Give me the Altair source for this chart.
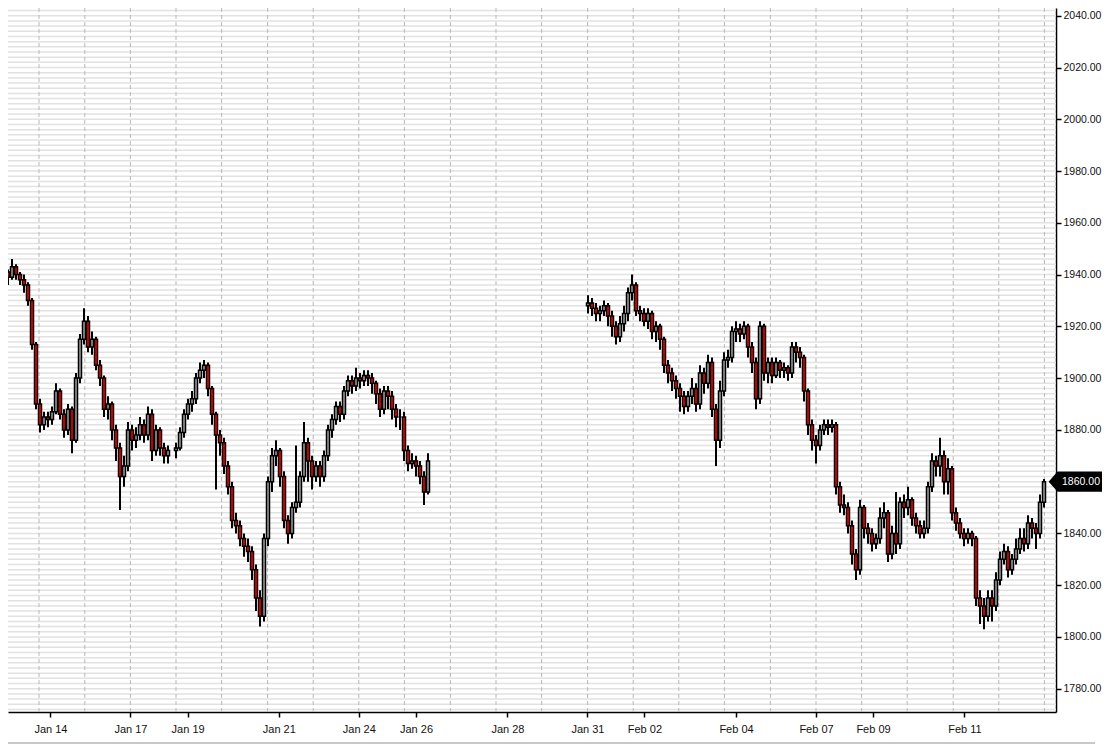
import altair as alt
import pandas as pd

# ---- price bars (one bar per 2 trading hours) ----
LEFT_START = 0          # bar slot of first bar in left block
LEFT_OPEN = 1939
left_close = [1940, 1941, 1939, 1943, 1940, 1938, 1936, 1930, 1913, 1890,
              1882, 1885, 1884, 1887, 1895, 1886, 1880, 1888, 1876, 1900,
              1915, 1922, 1912, 1915, 1905, 1900, 1888, 1890, 1880, 1873,
              1862, 1866, 1880, 1876, 1878, 1882, 1878, 1886, 1872, 1880,
              1873, 1870, 1872, None, 1873, 1879, 1886, 1890, 1892, 1900,
              1903, 1905, 1896, 1886, 1878, 1875, 1866, 1858, 1845, 1843,
              1838, 1835, 1833, 1826, 1815, 1808, 1838, 1860, 1870, 1872,
              1862, 1845, 1840, 1850, 1852, 1862, 1875, 1868, 1862, 1866,
              1862, 1870, 1880, 1884, 1889, 1886, 1895, 1899, 1897, 1900,
              1899, 1901, 1900, 1898, 1894, 1888, 1895, 1893, 1888, 1885,
              1885, 1872, 1867, 1868, 1866, 1862, 1856, 1868]
left_high = [1943, 1944, 1942, 1946, 1944, 1941, 1940, 1937, 1931, 1914,
             1892, 1887, 1887, 1889, 1898, 1896, 1888, 1890, 1889, 1902,
             1917, 1927, 1924, 1918, 1916, 1907, 1901, 1893, 1891, 1882,
             1875, 1870, 1883, 1882, 1881, 1885, 1884, 1889, 1888, 1882,
             1881, 1875, 1874, None, 1875, 1881, 1888, 1892, 1895, 1902,
             1906, 1907, 1906, 1897, 1887, 1880, 1877, 1868, 1860, 1848,
             1845, 1840, 1838, 1835, 1828, 1818, 1840, 1862, 1873, 1876,
             1873, 1864, 1847, 1852, 1874, 1864, 1883, 1877, 1870, 1868,
             1868, 1872, 1882, 1886, 1891, 1891, 1897, 1901, 1901, 1904,
             1902, 1903, 1903, 1902, 1899, 1896, 1897, 1897, 1895, 1890,
             1888, 1887, 1874, 1871, 1870, 1868, 1864, 1871]
left_low = [1936, 1938, 1936, 1938, 1938, 1936, 1933, 1928, 1911, 1888,
            1879, 1880, 1881, 1882, 1886, 1884, 1877, 1878, 1871, 1875,
            1898, 1913, 1910, 1909, 1903, 1897, 1885, 1884, 1876, 1868,
            1849, 1858, 1864, 1872, 1873, 1876, 1875, 1876, 1868, 1870,
            1870, 1867, 1867, None, 1869, 1872, 1877, 1884, 1887, 1890,
            1898, 1900, 1893, 1882, 1857, 1870, 1863, 1855, 1842, 1840,
            1835, 1831, 1829, 1822, 1810, 1804, 1806, 1835, 1856, 1866,
            1858, 1842, 1836, 1838, 1848, 1850, 1860, 1860, 1857, 1860,
            1858, 1860, 1868, 1877, 1882, 1883, 1884, 1893, 1894, 1895,
            1896, 1897, 1897, 1894, 1890, 1885, 1886, 1888, 1884, 1881,
            1880, 1868, 1864, 1865, 1862, 1859, 1851, 1855]

RIGHT_START = 147
RIGHT_OPEN = 1928
right_close = [1929, 1927, 1925, 1926, 1928, 1924, 1920, 1916, 1921, 1925,
               1933, 1936, 1926, 1925, 1922, 1925, 1918, 1920, 1915, 1905,
               1902, 1899, 1896, 1893, 1889, 1893, 1896, 1890, 1902, 1898,
               1906, 1888, 1876, 1895, 1907, 1908, 1918, 1919, 1917, 1920,
               1912, 1906, 1892, 1920, 1902, 1906, 1901, 1906, 1903, 1904,
               1902, 1912, 1910, 1908, 1895, 1882, 1876, 1874, 1880, 1882,
               1881, 1882, 1858, 1851, 1850, 1843, 1832, 1826, 1850, 1842,
               1840, 1836, 1838, 1846, 1848, 1832, 1840, 1836, 1852, 1850,
               1853, 1846, 1843, 1840, 1842, 1858, 1868, 1866, 1870, 1860,
               1865, 1848, 1844, 1840, 1838, 1840, 1838, 1815, 1812, 1808,
               1815, 1812, 1822, 1830, 1833, 1826, 1830, 1834, 1838, 1836,
               1844, 1842, 1840, 1852, 1860]
right_high = [1932, 1931, 1929, 1928, 1930, 1929, 1926, 1922, 1924, 1928,
              1935, 1940, 1937, 1928, 1927, 1927, 1926, 1922, 1921, 1916,
              1907, 1904, 1901, 1898, 1895, 1895, 1900, 1898, 1905, 1904,
              1909, 1908, 1890, 1899, 1910, 1911, 1920, 1922, 1921, 1922,
              1921, 1914, 1908, 1922, 1921, 1908, 1908, 1908, 1907, 1906,
              1905, 1914, 1914, 1912, 1909, 1896, 1884, 1878, 1882, 1884,
              1884, 1884, 1883, 1860, 1855, 1852, 1845, 1834, 1853, 1851,
              1844, 1842, 1840, 1850, 1852, 1849, 1843, 1856, 1854, 1855,
              1858, 1854, 1848, 1845, 1845, 1860, 1871, 1870, 1877, 1872,
              1869, 1866, 1850, 1846, 1842, 1842, 1841, 1839, 1818, 1815,
              1818, 1818, 1825, 1833, 1836, 1835, 1832, 1838, 1842, 1842,
              1847, 1846, 1844, 1855, 1861]
right_low = [1925, 1924, 1922, 1922, 1924, 1920, 1916, 1913, 1914, 1918,
             1922, 1930, 1924, 1922, 1920, 1919, 1915, 1914, 1911, 1902,
             1898, 1895, 1892, 1887, 1886, 1887, 1890, 1887, 1888, 1894,
             1896, 1885, 1866, 1873, 1893, 1904, 1906, 1914, 1914, 1915,
             1908, 1902, 1888, 1890, 1899, 1898, 1898, 1900, 1900, 1900,
             1899, 1900, 1906, 1904, 1891, 1878, 1872, 1867, 1872, 1878,
             1878, 1879, 1855, 1848, 1847, 1840, 1828, 1822, 1824, 1838,
             1836, 1833, 1834, 1836, 1842, 1829, 1830, 1832, 1834, 1846,
             1847, 1843, 1840, 1838, 1838, 1840, 1856, 1862, 1862, 1855,
             1855, 1845, 1841, 1838, 1835, 1836, 1835, 1812, 1805, 1803,
             1806, 1806, 1810, 1820, 1828, 1823, 1824, 1828, 1832, 1833,
             1834, 1838, 1834, 1838, 1850]

# ---- axis text ----
date_labels = ["Jan 14", "Jan 17", "Jan 19", "Jan 21", "Jan 24", "Jan 26", "Jan 28",
               "Jan 31", "Feb 02", "Feb 04", "Feb 07", "Feb 09", "Feb 11"]
date_slots = [12.6, 32.6, 46.9, 69.7, 89.7, 104.0, 126.85,
              146.85, 161.1, 184.0, 204.0, 218.25, 241.1]
day_bounds = [9.75, 21.2, 32.6, 44.0, 55.4, 66.9, 78.3, 89.7, 101.1, 112.6, 124.0,
              135.4, 146.9, 158.3, 169.7, 181.1, 192.6, 204.0, 215.4, 226.8, 238.3,
              249.7, 261.1]
price_ticks = list(range(1780, 2041, 20))

rows = []


def add_block(start, first_open, closes, highs, lows):
    prev = first_open
    for i, (c, h, l) in enumerate(zip(closes, highs, lows)):
        if c is None:
            continue
        rows.append(dict(slot=start + i, open=prev, close=c, high=h, low=l,
                         dir="up" if c >= prev else "down"))
        prev = c


add_block(LEFT_START, LEFT_OPEN, left_close, left_high, left_low)
add_block(RIGHT_START, RIGHT_OPEN, right_close, right_high, right_low)
df = pd.DataFrame(rows)

FONT = "Liberation Sans"
xs = alt.Scale(domain=[2, 264], nice=False, zero=False, padding=0)
ys = alt.Scale(domain=[1771, 2043], nice=False, zero=False, padding=0)

label_expr = "[" + ",".join(f"'{t}'" for t in date_labels) + "][indexof([" + \
    ",".join(str(v) for v in date_slots) + "], datum.value)]"

x_axis = alt.Axis(values=date_slots, labelExpr=label_expr, title=None, grid=False,
                  domainColor="black", domainWidth=1.5, tickColor="black", tickSize=5,
                  tickWidth=1.5, labelFont=FONT, labelFontSize=11, labelColor="#111111",
                  labelPadding=6, labelFlush=False, labelOverlap=False)
y_axis = alt.Axis(orient="right", values=price_ticks, format=".2f", title=None, grid=False,
                  domainColor="black", domainWidth=1.5, tickColor="black", tickSize=5,
                  tickWidth=1.5, labelFont=FONT, labelFontSize=10.5, labelColor="#111111",
                  labelPadding=2, labelOverlap=False)

hgrid = alt.Chart(pd.DataFrame({"g": list(range(1772, 2043, 2))})).mark_rule(
    color="#e2e2e2", strokeWidth=1.5).encode(y=alt.Y("g:Q", scale=ys, axis=y_axis))

vgrid = alt.Chart(pd.DataFrame({"b": day_bounds})).mark_rule(
    color="#b8b8b8", strokeDash=[4, 3], strokeWidth=1).encode(
    x=alt.X("b:Q", scale=xs, axis=x_axis))

wicks = alt.Chart(df).mark_rule(color="black", strokeWidth=2, clip=True).encode(
    x=alt.X("slot:Q", scale=xs, axis=x_axis),
    y=alt.Y("low:Q", scale=ys, axis=y_axis),
    y2="high:Q")

bodies = alt.Chart(df).mark_bar(size=3, stroke="black", strokeWidth=1.5, clip=True).encode(
    x=alt.X("slot:Q", scale=xs, axis=x_axis),
    y=alt.Y("open:Q", scale=ys, axis=y_axis),
    y2="close:Q",
    fill=alt.Fill("dir:N", scale=alt.Scale(domain=["up", "down"], range=["#a0a0a0", "#ff0000"]),
                  legend=None))

last = df["close"].iloc[-1]
tag_df = pd.DataFrame({"p": [last], "t": [f"{last:.2f}"]})
tag = alt.Chart(tag_df).mark_point(
    shape="M-1,0L-0.69,-0.35L1,-0.35L1,0.35L-0.69,0.35Z", size=2704, filled=True,
    fill="black", stroke="black", opacity=1).encode(
    x=alt.value(1068), y=alt.Y("p:Q", scale=ys, axis=y_axis))
tag_text = alt.Chart(tag_df).mark_text(
    color="white", font=FONT, fontSize=10.5, align="center", baseline="middle").encode(
    x=alt.value(1073), y=alt.Y("p:Q", scale=ys, axis=y_axis), text="t:N")

bottom_line = alt.Chart(pd.DataFrame({"a": [0]})).mark_rule(
    color="#c8c8c8", strokeWidth=2).encode(
    x=alt.value(0), x2=alt.value(1087), y=alt.value(735))

chart = alt.layer(hgrid, vgrid, wicks, bodies, tag, tag_text, bottom_line).properties(
    width=1048, height=704, background="white",
    padding={"left": 0, "top": 0, "right": 46, "bottom": 36},
    autosize=alt.AutoSizeParams(type="none"),
).configure_view(stroke=None)

chart.save("out.html", embed_options={"renderer": "svg", "actions": False})
